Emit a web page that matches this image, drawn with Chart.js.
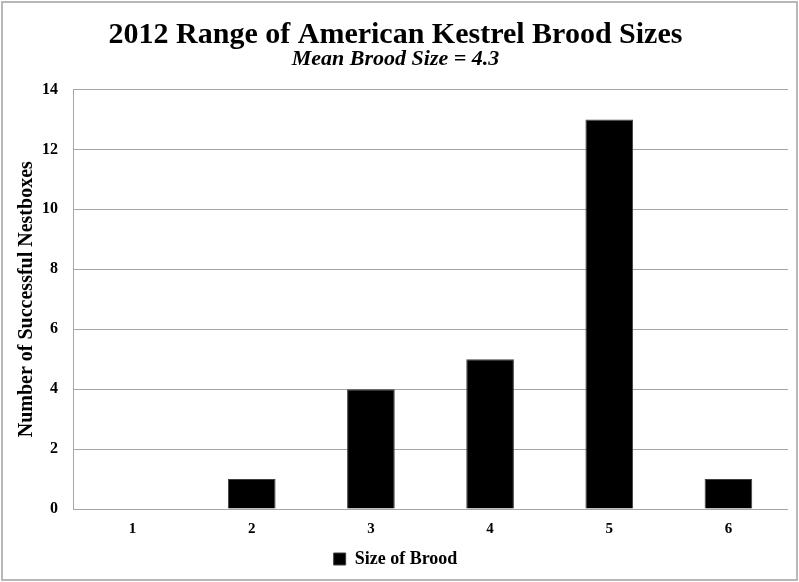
<!DOCTYPE html>
<html lang="en">
<head>
  <meta charset="UTF-8" />
  <title>2012 Range of American Kestrel Brood Sizes</title>
  <script src="https://cdn.jsdelivr.net/npm/chart.js"></script>
  <style>
    body {
      margin: 0;
      background: #ffffff;
    }

    .frame {
      position: absolute;
      left: 1px;
      top: 1px;
      width: 797px;
      height: 580px;
      box-sizing: border-box;
      border: 2px solid #b8b8b8;
      background: #ffffff;
    }

    .frame canvas {
      display: block;
    }
  </style>
</head>
<body>

  <div class="frame">
    <canvas id="broodChart"></canvas>
  </div>

  <script>
    // brood sizes and how many nestboxes had each
    const broodSizes = ['1', '2', '3', '4', '5', '6'];
    const nestboxCounts = [0, 1, 4, 5, 13, 1];
    const yTicks = [0, 2, 4, 6, 8, 10, 12, 14];

    const serif = "'Liberation Serif', 'DejaVu Serif', serif";
    const gridGrey = '#a6a6a6';

    new Chart(document.getElementById('broodChart'), {
      type: 'bar',
      data: {
        labels: broodSizes,
        datasets: [{
          label: 'Size of Brood',
          data: nestboxCounts,
          backgroundColor: '#000000',
          borderColor: '#404040',
          borderWidth: 1,
          barPercentage: 0.8,
          categoryPercentage: 0.5
        }]
      },
      options: {
        responsive: true,
        maintainAspectRatio: false,
        animation: false,
        layout: {
          padding: { left: 0, right: 8, top: 0, bottom: 1 }
        },
        plugins: {
          title: {
            display: true,
            text: '2012 Range of American Kestrel Brood Sizes',
            color: '#000000',
            font: { family: serif, size: 30, weight: 'bold', lineHeight: 0.85 },
            padding: { top: 19, bottom: 0 }
          },
          subtitle: {
            display: true,
            text: 'Mean Brood Size = 4.3',
            color: '#000000',
            font: { family: serif, size: 22, weight: 'bold', style: 'italic', lineHeight: 1.0 },
            padding: { top: 1, bottom: 19 }
          },
          legend: {
            position: 'bottom',
            labels: {
              color: '#000000',
              boxWidth: 12,
              boxHeight: 12,
              font: { family: serif, size: 18, weight: 'bold' },
              padding: 9
            }
          },
          tooltip: { enabled: false }
        },
        scales: {
          x: {
            grid: { display: false },
            border: { display: false },
            ticks: {
              color: '#000000',
              padding: 3,
              font: { family: serif, size: 15, weight: 'bold' }
            }
          },
          y: {
            min: 0,
            max: 14,
            afterBuildTicks: axis => {
              axis.ticks = yTicks.map(v => ({ value: v }));
            },
            afterFit: axis => {
              axis.width = 70;
            },
            grid: {
              color: gridGrey,
              lineWidth: 1,
              drawTicks: false
            },
            border: { display: true, color: gridGrey, width: 1 },
            ticks: {
              color: '#000000',
              padding: 15,
              font: { family: serif, size: 16, weight: 'bold' }
            },
            title: {
              display: true,
              text: 'Number of Successful Nestboxes',
              color: '#000000',
              font: { family: serif, size: 20, weight: 'bold' },
              padding: { top: 12, bottom: 0 }
            }
          }
        }
      }
    });
  </script>
</body>
</html>
